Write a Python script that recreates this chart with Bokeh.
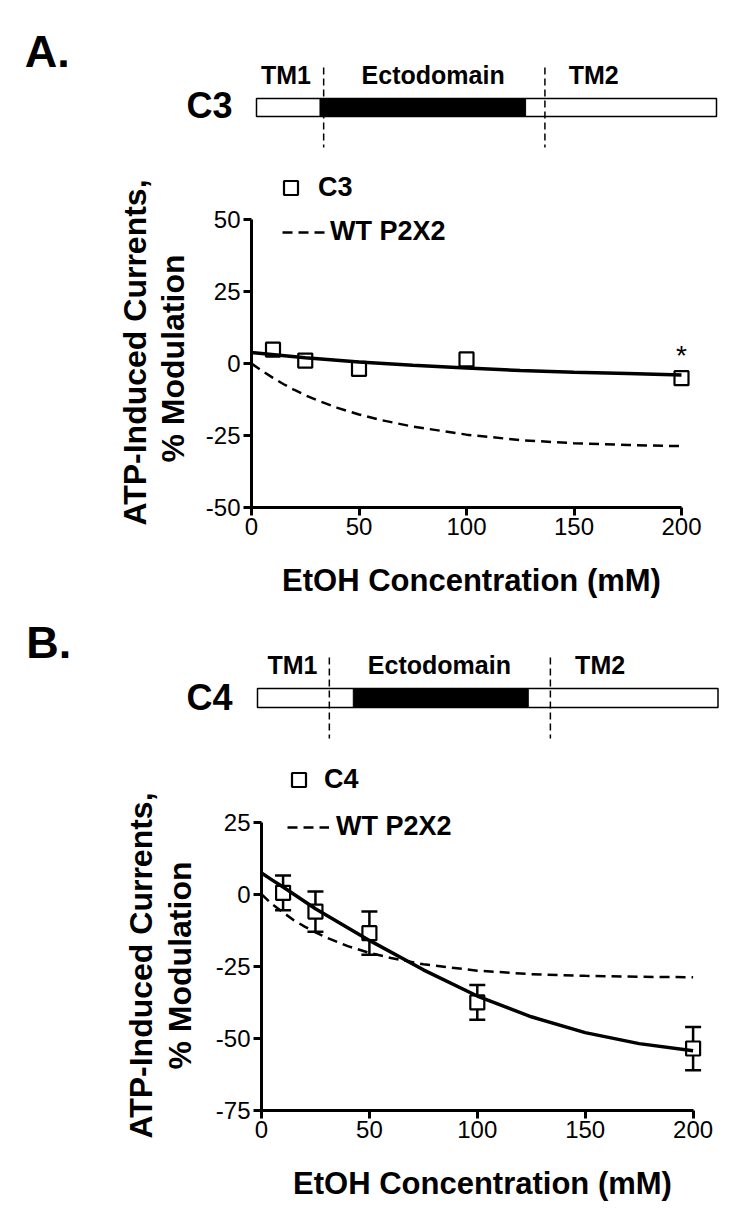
import math
from bokeh.plotting import figure
from bokeh.layouts import column, row
from bokeh.models import (Range1d, FixedTicker, Legend, LegendItem, Whisker,
                          ColumnDataSource, Label, TeeHead)
from bokeh.embed import file_html
from bokeh.resources import INLINE
from bokeh.core.properties import value

FONT = "Liberation Sans"

# ---------------- data ----------------
conc = [10, 25, 50, 100, 200]
c3_mean = [4.8, 1.0, -1.9, 1.4, -5.1]
c4_mean = [0.5, -6.0, -13.5, -37.5, -53.5]
c4_sem = [6.0, 7.0, 7.5, 6.0, 7.5]

c3_fit_x = [0, 25, 50, 75, 100, 125, 150, 175, 200]
c3_fit_y = [3.8, 2.0, 0.5, -0.6, -1.6, -2.4, -3.0, -3.5, -4.0]
c4_fit_x = [0, 5, 10, 25, 50, 75, 100, 125, 150, 175, 200]
c4_fit_y = [7.4, 4.9, 2.5, -5.0, -16.0, -26.2, -35.3, -42.5, -48.0, -51.8, -54.3]
wt_fit_x = [0, 5, 10, 15, 20, 25, 30, 40, 50, 60, 75, 100, 125, 150, 175, 200]
wt_fit_a = [0, -2.6, -5.0, -7.2, -9.2, -11.0, -12.6, -15.4, -17.7, -19.6,
            -21.9, -24.7, -26.6, -27.7, -28.3, -28.7]
wt_fit_b = [0, -3.5, -6.3, -9.0, -11.2, -13.2, -15.0, -18.0, -20.3, -22.1,
            -24.3, -26.5, -27.7, -28.3, -28.6, -28.8]

x_ticks = [0, 50, 100, 150, 200]
x_tick_labels = ["0", "50", "100", "150", "200"]
ya_ticks = [-50, -25, 0, 25, 50]
ya_tick_labels = ["-50", "-25", "0", "25", "50"]
yb_ticks = [-75, -50, -25, 0, 25]
yb_tick_labels = ["-75", "-50", "-25", "0", "25"]

x_title = "EtOH Concentration (mM)"
y_title = ["ATP-Induced Currents,", "% Modulation"]

domain_names = ["TM1", "Ectodomain", "TM2"]
# construct schematic, in % of construct length
c3_black = [13.8, 58.5]
c3_bounds = [14.6, 62.7]
c3_name_pos = [6.4, 38.4, 73.3]
c4_black = [20.8, 58.8]
c4_bounds = [15.6, 63.6]
c4_name_pos = [7.6, 39.5, 74.4]

W = 750
LABW = 200


def blank(width, height, xr, yr):
    p = figure(width=width, height=height, x_range=xr, y_range=yr,
               x_axis_type=None, y_axis_type=None,
               output_backend="svg", toolbar_location=None, min_border=0)
    p.frame_align = False
    p.grid.visible = False
    p.outline_line_color = None
    p.background_fill_color = "white"
    p.border_fill_color = "white"
    return p


def bold_text(p, x, y, text, size, align="center", baseline="alphabetic",
              angle=0):
    p.text(x=x, y=y, text=text, text_font=value(FONT),
           text_font_style="bold", text_font_size=f"{size}px",
           text_align=align, text_baseline=baseline, angle=angle,
           text_color="black")


def diagram(height, box_left, box_w, box_top, box_bot, black, bounds,
            dash_top, dash_bot, letter, letter_x, letter_base, name,
            name_x, name_base, name_pos, tm_base):
    ppu = box_w / 100.0
    p = blank(W, height, Range1d(-box_left / ppu, (W - box_left) / ppu),
              Range1d(height, 0))
    p.quad(left=[0], right=[100], top=[box_top], bottom=[box_bot],
           fill_color="white", line_color="black", line_width=1.5)
    p.quad(left=[black[0]], right=[black[1]], top=[box_top], bottom=[box_bot],
           fill_color="black", line_color="black", line_width=1)
    p.segment(x0=bounds, y0=[dash_top] * 2, x1=bounds, y1=[dash_bot] * 2,
              line_color="black", line_width=1.5, line_dash="7 4")
    # alphabetic baselines are drawn ~0.35em low; compensate
    bold_text(p, name_pos, [tm_base - 0.35 * 25] * 3, domain_names, 25)
    bold_text(p, [letter_x], [letter_base - 0.35 * 45], [letter], 45,
              align="left")
    bold_text(p, [name_x], [name_base - 0.35 * 36], [name], 36)
    return p


def ylabel(height, top, xs, ys):
    p = blank(LABW, height, Range1d(0, LABW), Range1d(top + height, top))
    bold_text(p, xs, ys, y_title, 32, baseline="middle", angle=math.pi / 2)
    return p


def chart(height, left, frame_w, top, bottom, px_x, px_y, y0, ticks_y,
          labels_y):
    frame_h = height - top - bottom
    width = W - LABW
    p = figure(width=width, height=height,
               x_range=Range1d(0, frame_w / px_x),
               y_range=Range1d(y0, y0 + frame_h / px_y),
               output_backend="svg", toolbar_location=None,
               min_border_left=left, min_border_right=width - left - frame_w,
               min_border_top=top, min_border_bottom=bottom)
    p.frame_align = False
    p.grid.visible = False
    p.outline_line_color = None
    p.background_fill_color = "white"
    p.border_fill_color = "white"
    for ax in (p.xaxis[0], p.yaxis[0]):
        ax.axis_line_width = 3
        ax.major_tick_line_width = 3
        ax.major_tick_in = 0
        ax.major_tick_out = 8
        ax.minor_tick_line_color = None
        ax.major_label_text_font = FONT
        ax.major_label_text_font_size = "24px"
        ax.major_label_text_color = "black"
        ax.axis_label_text_font = FONT
        ax.axis_label_text_font_style = "bold"
        ax.axis_label_text_color = "black"
    p.xaxis.ticker = FixedTicker(ticks=x_ticks)
    p.xaxis.major_label_overrides = dict(zip(x_ticks, x_tick_labels))
    p.xaxis.bounds = (x_ticks[0], x_ticks[-1])
    p.xaxis.major_label_standoff = 2
    p.xaxis.axis_label = x_title
    p.xaxis.axis_label_text_font_size = "31px"
    p.xaxis.axis_label_standoff = 25
    p.yaxis.ticker = FixedTicker(ticks=ticks_y)
    p.yaxis.major_label_overrides = dict(zip(ticks_y, labels_y))
    p.yaxis.bounds = (ticks_y[0], ticks_y[-1])
    p.yaxis.major_label_standoff = 3
    return p


def add_legends(p, sc, wt, name, l1, l2):
    leg1 = Legend(items=[LegendItem(label=name, renderers=[sc])],
                  location=l1[0], glyph_width=35, glyph_height=35,
                  label_standoff=l1[1], padding=0, margin=0, spacing=0,
                  border_line_color=None, background_fill_alpha=0,
                  label_text_font=FONT, label_text_font_style="bold",
                  label_text_font_size="27px", label_text_color="black")
    leg2 = Legend(items=[LegendItem(label="WT P2X2", renderers=[wt])],
                  location=l2[0], glyph_width=l2[2], glyph_height=20,
                  label_standoff=l2[1], padding=0, margin=0, spacing=0,
                  border_line_color=None, background_fill_alpha=0,
                  label_text_font=FONT, label_text_font_style="bold",
                  label_text_font_size="27px", label_text_color="black")
    p.add_layout(leg1)
    p.add_layout(leg2)


# ---------------- panel A ----------------
diagA = diagram(160, 256, 460, 98, 116, c3_black, c3_bounds, 67, 147,
                "A.", -50.4, 67, "C3", -10.2, 118, c3_name_pos, 83)

ylabA = ylabel(455, 160, [134, 172], [352, 358])
pA = chart(455, 51, 440, 5, 108, 430 / 200, 2.88, -50, ya_ticks,
           ya_tick_labels)
wtA = pA.line(wt_fit_x, wt_fit_a, line_color="black", line_width=2.5,
              line_dash="10 6")
scA = pA.scatter(conc, c3_mean, marker="square", size=14, fill_color="white",
                 line_color="black", line_width=2.2)
pA.line(c3_fit_x, c3_fit_y, line_color="black", line_width=3.5)
pA.add_layout(Label(x=conc[-1], y=c3_mean[-1], text="*", text_font=FONT,
                    text_font_size="28px", text_align="center",
                    text_baseline="alphabetic", y_offset=23,
                    text_color="black"))
add_legends(pA, scA, wtA, "C3", ((22, 302), 10), ((31, 260), 4, 44))

# ---------------- panel B ----------------
diagB = diagram(140, 257, 460.5, 73, 92, c4_black, c4_bounds, 42, 123,
                "B.", -50.2, 43, "C4", -10.4, 95, c4_name_pos, 58)

ylabB = ylabel(460, 755, [140, 179], [965, 965])
pB = chart(460, 61, 442, 5, 105, 431.6 / 200, 2.883, -75, yb_ticks,
           yb_tick_labels)
wtB = pB.line(wt_fit_x, wt_fit_b, line_color="black", line_width=2.5,
              line_dash="10 6")
src = ColumnDataSource(dict(x=conc,
                            upper=[m + s for m, s in zip(c4_mean, c4_sem)],
                            lower=[m - s for m, s in zip(c4_mean, c4_sem)]))
pB.add_layout(Whisker(source=src, base="x", upper="upper", lower="lower",
                      line_width=2.5, line_color="black",
                      upper_head=TeeHead(size=16, line_width=2.5),
                      lower_head=TeeHead(size=16, line_width=2.5)))
scB = pB.scatter(conc, c4_mean, marker="square", size=14, fill_color="white",
                 line_color="black", line_width=2.2)
pB.line(c4_fit_x, c4_fit_y, line_color="black", line_width=3.5)
add_legends(pB, scB, wtB, "C4", ((20, 313), 8), ((26, 268), 7, 42))

layout = column(diagA, row(ylabA, pA, spacing=0), diagB,
                row(ylabB, pB, spacing=0), spacing=0)
open("out.html", "w").write(file_html(layout, INLINE))
